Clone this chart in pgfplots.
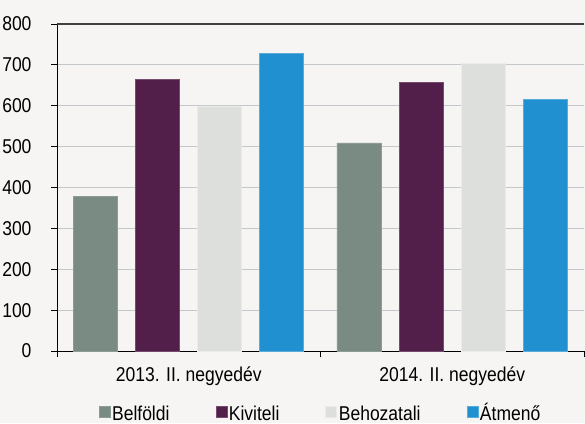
\documentclass[border=0pt]{standalone}
\usepackage{fontspec}
\setmainfont{Liberation Sans}[FakeStretch=0.875]
\usepackage{pgfplots}
\pgfplotsset{compat=1.18}
\definecolor{bg}{HTML}{F6F5F3}
\definecolor{gridc}{HTML}{C4C7CB}
\definecolor{belf}{HTML}{7A8B84}
\definecolor{kiv}{HTML}{521E4A}
\definecolor{beh}{HTML}{DDDFDC}
\definecolor{atm}{HTML}{2190D0}
\newcommand\chartfont{\fontsize{20bp}{24bp}\selectfont}
\begin{document}
\begin{tikzpicture}[x=1bp,y=1bp]
\fill[bg] (0,0) rectangle (585,423);
\begin{axis}[at={(57bp,72bp)},anchor=south west,scale only axis,
width=527bp,height=327bp,
tick label style={font=\chartfont},
/pgf/number format/assume math mode=true,
xmin=-0.5,xmax=1.5,ymin=0,ymax=800,
axis x line*=bottom,axis y line*=left,
axis line style={black,line width=1bp},
ytick={0,100,...,700},extra y ticks={800},
extra y tick style={grid style={draw=black!75,line width=1.4bp}},
ymajorgrids,grid style={draw=gridc,line width=0.9bp},
tick align=outside,major tick length=6bp,tick style={black,line width=0.8bp},
yticklabel style={xshift=-16bp},
xtick={-0.5,0.5,1.5},xticklabels={},
extra x ticks={0,1},extra x tick labels={2013. II. negyedév,2014. II. negyedév},
extra x tick style={major tick length=0pt,xticklabel style={yshift=-12bp}},
legend style={at={(0.5,-0.19)},anchor=center,draw=none,fill=none,font=\chartfont,
  legend columns=4,/tikz/every even column/.append style={column sep=44bp},
  nodes={inner sep=2bp,text height=18bp,text depth=4bp}},
legend image code/.code={\fill[#1] (0bp,-4.5bp) rectangle (11bp,6.5bp);},
]
\addplot[ybar,bar width=0.167,bar shift=-0.354,fill=belf,draw=belf!85!white] coordinates {(0,379)(1,509)};
\addlegendentry{Belföldi}
\addplot[ybar,bar width=0.167,bar shift=-0.118,fill=kiv,draw=kiv!80!white] coordinates {(0,665)(1,658)};
\addlegendentry{Kiviteli}
\addplot[ybar,bar width=0.167,bar shift=0.117,fill=beh,draw=beh!60!white] coordinates {(0,600)(1,704)};
\addlegendentry{Behozatali}
\addplot[ybar,bar width=0.167,bar shift=0.352,fill=atm,draw=atm!75!white] coordinates {(0,729)(1,616)};
\addlegendentry{Átmenő}
\end{axis}
\pgfresetboundingbox
\path[use as bounding box] (0,0) rectangle (585,423);
\end{tikzpicture}
\end{document}
